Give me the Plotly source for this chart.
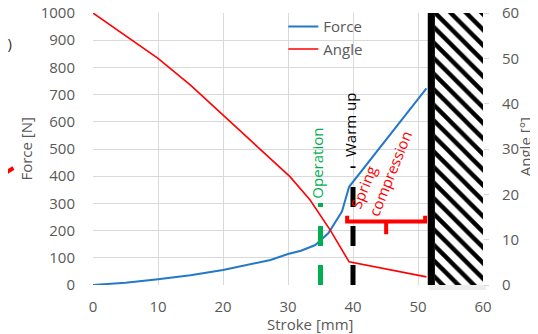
import plotly.graph_objects as go

# ---- data ----
stroke_force = [0, 5, 10, 15, 20, 25, 27.3, 30, 32, 34.2, 36.2, 38.3, 39.4, 51.3]
force = [0, 8.5, 21, 36, 55, 80, 92, 114, 126, 147, 190, 270, 361, 723]

stroke_angle = [0, 5, 10, 15, 20, 25, 27.3, 30.3, 33.4, 36.5, 39.4, 51.3]
angle = [60, 55.0, 50, 44.1, 37.5, 30.9, 27.9, 23.9, 18.75, 12.1, 5.1, 1.8]

operation_x = [35, 35]
operation_angle = [0, 18.1]
warmup_x = [40, 40]
warmup_angle = [0, 26.2]

bracket_x = [39.1, 39.1, 45.1, 45.1, 45.1, 51.1, 51.1]
bracket_angle = [15.3, 14.0, 14.0, 11.2, 14.0, 14.0, 15.3]

wall_solid_x = [51.5, 52.6, 52.6, 51.5, 51.5]
wall_hatch_x = [52.6, 60, 60, 52.6, 52.6]
wall_angle = [0, 0, 60, 60, 0]

x_ticks = [0, 10, 20, 30, 40, 50, 60]
force_ticks = list(range(0, 1001, 100))
angle_ticks = [0, 10, 20, 30, 40, 50, 60]

FONT = "Open Sans"
GRAY = "#595959"
GRID = "#d9d9d9"
BLUE = "#2478C8"
RED = "#FF0000"
GREEN = "#00B050"

fig = go.Figure()

fig.add_trace(go.Scatter(x=stroke_force, y=force, mode="lines", name="Force",
                         line=dict(color=BLUE, width=2), yaxis="y"))
fig.add_trace(go.Scatter(x=stroke_angle, y=angle, mode="lines", name="Angle",
                         line=dict(color=RED, width=1.6), yaxis="y2"))

fig.add_trace(go.Scatter(x=operation_x, y=operation_angle, mode="lines", showlegend=False,
                         line=dict(color=GREEN, width=5, dash="20px,19px"), yaxis="y2"))
fig.add_trace(go.Scatter(x=warmup_x, y=warmup_angle, mode="lines", showlegend=False,
                         line=dict(color="black", width=5, dash="20px,19px"), yaxis="y2"))
fig.add_trace(go.Scatter(x=bracket_x, y=bracket_angle, mode="lines", showlegend=False,
                         line=dict(color=RED, width=4), yaxis="y2"))

fig.add_trace(go.Scatter(x=wall_hatch_x, y=wall_angle, mode="lines", fill="toself",
                         showlegend=False, line=dict(width=0, color="black"),
                         fillcolor="white",
                         fillpattern=dict(shape="\\", size=11, solidity=0.4,
                                          fgcolor="black", bgcolor="white", fillmode="replace"),
                         yaxis="y2"))
fig.add_trace(go.Scatter(x=wall_solid_x, y=wall_angle, mode="lines", fill="toself",
                         showlegend=False, line=dict(width=0, color="black"),
                         fillcolor="black", yaxis="y2"))

annotations = [
    dict(x=34.4, y=26.9, xref="x", yref="y2", text="Operation", textangle=-90,
         xanchor="center", yanchor="middle",
         showarrow=False, font=dict(family=FONT, size=15, color=GREEN)),
    dict(x=39.55, y=35.3, xref="x", yref="y2", text="Warm up", textangle=-90,
         xanchor="center", yanchor="middle",
         showarrow=False, font=dict(family=FONT, size=15, color="black")),
    dict(x=44.3, y=25.4, xref="x", yref="y2", text="Spring<br>compression", textangle=-68,
         xanchor="center", yanchor="middle",
         showarrow=False, align="left", font=dict(family=FONT, size=15, color=RED)),
    dict(x=0.557, y=-0.143, xref="paper", yref="paper", text="Stroke [mm]",
         xanchor="center", yanchor="middle",
         showarrow=False, font=dict(family=FONT, size=15, color=GRAY)),
    dict(x=-0.173, y=0.5, xref="paper", yref="paper", text="Force [N]", textangle=-90,
         xanchor="center", yanchor="middle",
         showarrow=False, font=dict(family=FONT, size=15, color=GRAY)),
    dict(x=1.1075, y=0.51, xref="paper", yref="paper", text="Angle [°]", textangle=-90,
         xanchor="center", yanchor="middle",
         showarrow=False, font=dict(family=FONT, size=15, color=GRAY)),
    dict(x=-0.2036, y=0.89, xref="paper", yref="paper", xanchor="right", yanchor="middle",
         text="(d)", showarrow=False, font=dict(family=FONT, size=15, color="#333333")),
]

shapes = [
    dict(type="line", xref="paper", yref="paper", x0=-0.25, y0=0.39, x1=-0.204, y1=0.43,
         line=dict(color=RED, width=4)),
    dict(type="rect", xref="paper", yref="paper", x0=0.862, x1=1.008, y0=-0.018, y1=0,
         line=dict(width=0), fillcolor="rgba(0,0,0,0.07)", layer="below"),
]

fig.update_layout(
    width=530, height=326,
    margin=dict(l=84.5, r=55, t=5, b=49, autoexpand=False),
    paper_bgcolor="white", plot_bgcolor="white",
    font=dict(family=FONT, size=15, color=GRAY),
    xaxis=dict(range=[0, 60], tickvals=x_ticks, showgrid=True, gridcolor=GRID, gridwidth=1,
               zeroline=False, showline=False, ticks="outside", ticklen=8, automargin=False,
               tickcolor="rgba(0,0,0,0)", tickfont=dict(size=15, color=GRAY)),
    yaxis=dict(range=[0, 1000], tickvals=force_ticks, showgrid=True, gridcolor=GRID,
               zeroline=False, showline=False, ticks="outside", ticklen=14, automargin=False,
               ticklabeloverflow="allow",
               tickcolor="rgba(0,0,0,0)", tickfont=dict(size=15, color=GRAY)),
    yaxis2=dict(range=[0, 60], tickvals=angle_ticks, overlaying="y", side="right",
                showgrid=False, zeroline=False, showline=False, ticks="outside", ticklen=5,
                automargin=False, ticklabeloverflow="allow",
                tickcolor=GRID, ticklabelstandoff=10, tickfont=dict(size=15, color=GRAY)),
    legend=dict(x=0.488, y=1.01, xanchor="left", yanchor="top", bgcolor="rgba(0,0,0,0)",
                font=dict(family=FONT, size=15, color=GRAY), tracegroupgap=0),
    annotations=annotations,
    shapes=shapes,
    showlegend=True,
)

fig.write_html("out.html")
